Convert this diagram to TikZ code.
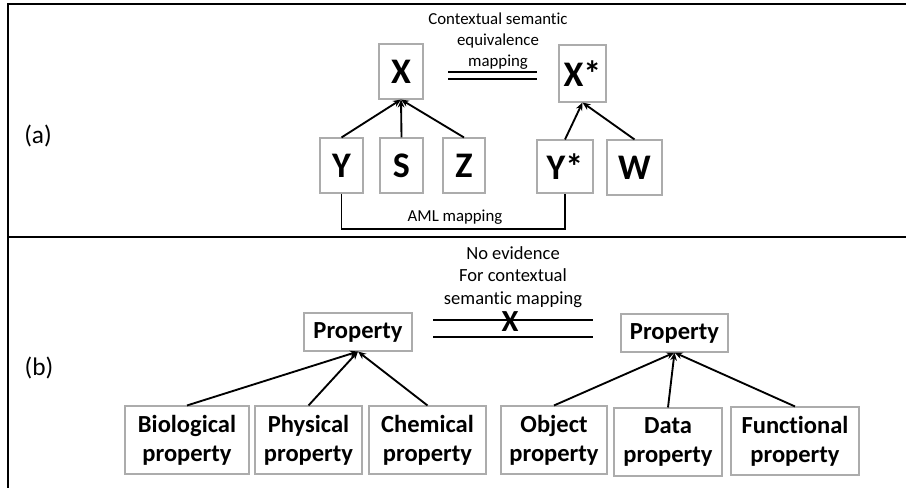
\documentclass[tikz,border=0pt]{standalone}
\usepackage{fontspec}
\setmainfont[Ligatures=NoCommon]{Carlito}
\usetikzlibrary{arrows.meta}

\begin{document}
\begin{tikzpicture}[x=0.75pt,y=-0.75pt,
    box/.style={draw=gray!65,line width=0.8pt,inner sep=0pt,align=center},
    letter/.style={box,font=\fontsize{27}{30}\selectfont\bfseries},
    prop/.style={box,font=\fontsize{18.4}{22}\selectfont\bfseries,minimum height=51pt},
    link/.style={-{Stealth[length=6pt,width=5pt]},line width=1.4pt},
    note/.style={align=center,inner sep=0pt}]
    \useasboundingbox (0,0) rectangle (906,488);

    % frame
    \draw[line width=1.9pt] (906,4) -- (8,4) -- (8,488);
    \draw[line width=1.9pt] (8,237) -- (906,237);

    \node[font=\fontsize{19}{22}\selectfont] (lbla) at (38,136) {(a)};
    \node[font=\fontsize{19}{22}\selectfont] (lblb) at (39,368) {(b)};

    % (a)
    \node[letter,minimum width=33pt,minimum height=41.25pt] (X) at (401,71.5) {X};
    \node[letter,minimum width=35.25pt,minimum height=42.75pt] (Xs) at (582.5,73.5) {X*};
    \node[letter,minimum width=32.25pt,minimum height=41.25pt] (Y) at (341.5,165.5) {Y};
    \node[letter,minimum width=32.25pt,minimum height=41.25pt] (S) at (401.5,165.5) {S};
    \node[letter,minimum width=31.5pt,minimum height=41.25pt] (Z) at (464,165.5) {Z};
    \node[letter,minimum width=42pt,minimum height=39.75pt] (Ys) at (565,166.5) {Y*};
    \node[letter,minimum width=41.25pt,minimum height=41.25pt] (W) at (634.5,167.5) {W};

    \draw[link] (Y.north) -- (X.south);
    \draw[link] (S.north) -- (X.south);
    \draw[link] (Z.north) -- (X.south);
    \draw[link] (Ys.north) -- (Xs.south);
    \draw[link] (W.north) -- (Xs.south);

    \coordinate (eqa1) at (448,72);
    \coordinate (eqa2) at (537,72);
    \coordinate (eqb1) at (448,79);
    \coordinate (eqb2) at (537,79);
    \draw[line width=1.9pt] (eqa1) -- (eqa2) (eqb1) -- (eqb2);
    \node[note,font=\fontsize{12.6}{15.75}\selectfont] (ctx) at (498,41)
        {Contextual semantic\\equivalence\\mapping};

    \coordinate (amlbase) at (455,229);
    \draw[line width=1.1pt] (Y.south) |- (amlbase) -| (Ys.south);
    \node[note,font=\fontsize{12.6}{15.75}\selectfont] (aml) at (455,217) {AML mapping};

    % (b)
    \node[prop,minimum width=81pt,minimum height=28.5pt] (propL) at (358,332) {Property};
    \node[prop,minimum width=80.25pt,minimum height=28.5pt] (propR) at (674.5,333) {Property};
    \node[prop,minimum width=93pt] (bio) at (187,440) {Biological\\property};
    \node[prop,minimum width=80.25pt] (phys) at (308.5,440) {Physical\\property};
    \node[prop,minimum width=87.75pt] (chem) at (427.5,440) {Chemical\\property};
    \node[prop,minimum width=79.5pt] (obj) at (554,440) {Object\\property};
    \node[prop,minimum width=81pt] (data) at (668,442) {Data\\property};
    \node[prop,minimum width=96pt] (func) at (795,441) {Functional\\property};

    \foreach \n in {bio,phys,chem}
        \draw[link] (\n.north) -- (propL.south);
    \foreach \n in {obj,data,func}
        \draw[link] (\n.north) -- (propR.south);

    \coordinate (nea1) at (433,320);
    \coordinate (nea2) at (593,320);
    \coordinate (neb1) at (433,337);
    \coordinate (neb2) at (593,337);
    \draw[line width=2.2pt] (nea1) -- (nea2) (neb1) -- (neb2);
    \node[font=\fontsize{23}{24}\selectfont\bfseries,inner sep=0pt] (nox) at (510,322) {X};
    \node[note,font=\fontsize{13.9}{16.9}\selectfont] (noev) at (513,277)
        {No evidence\\For contextual\\semantic mapping};
\end{tikzpicture}
\end{document}
